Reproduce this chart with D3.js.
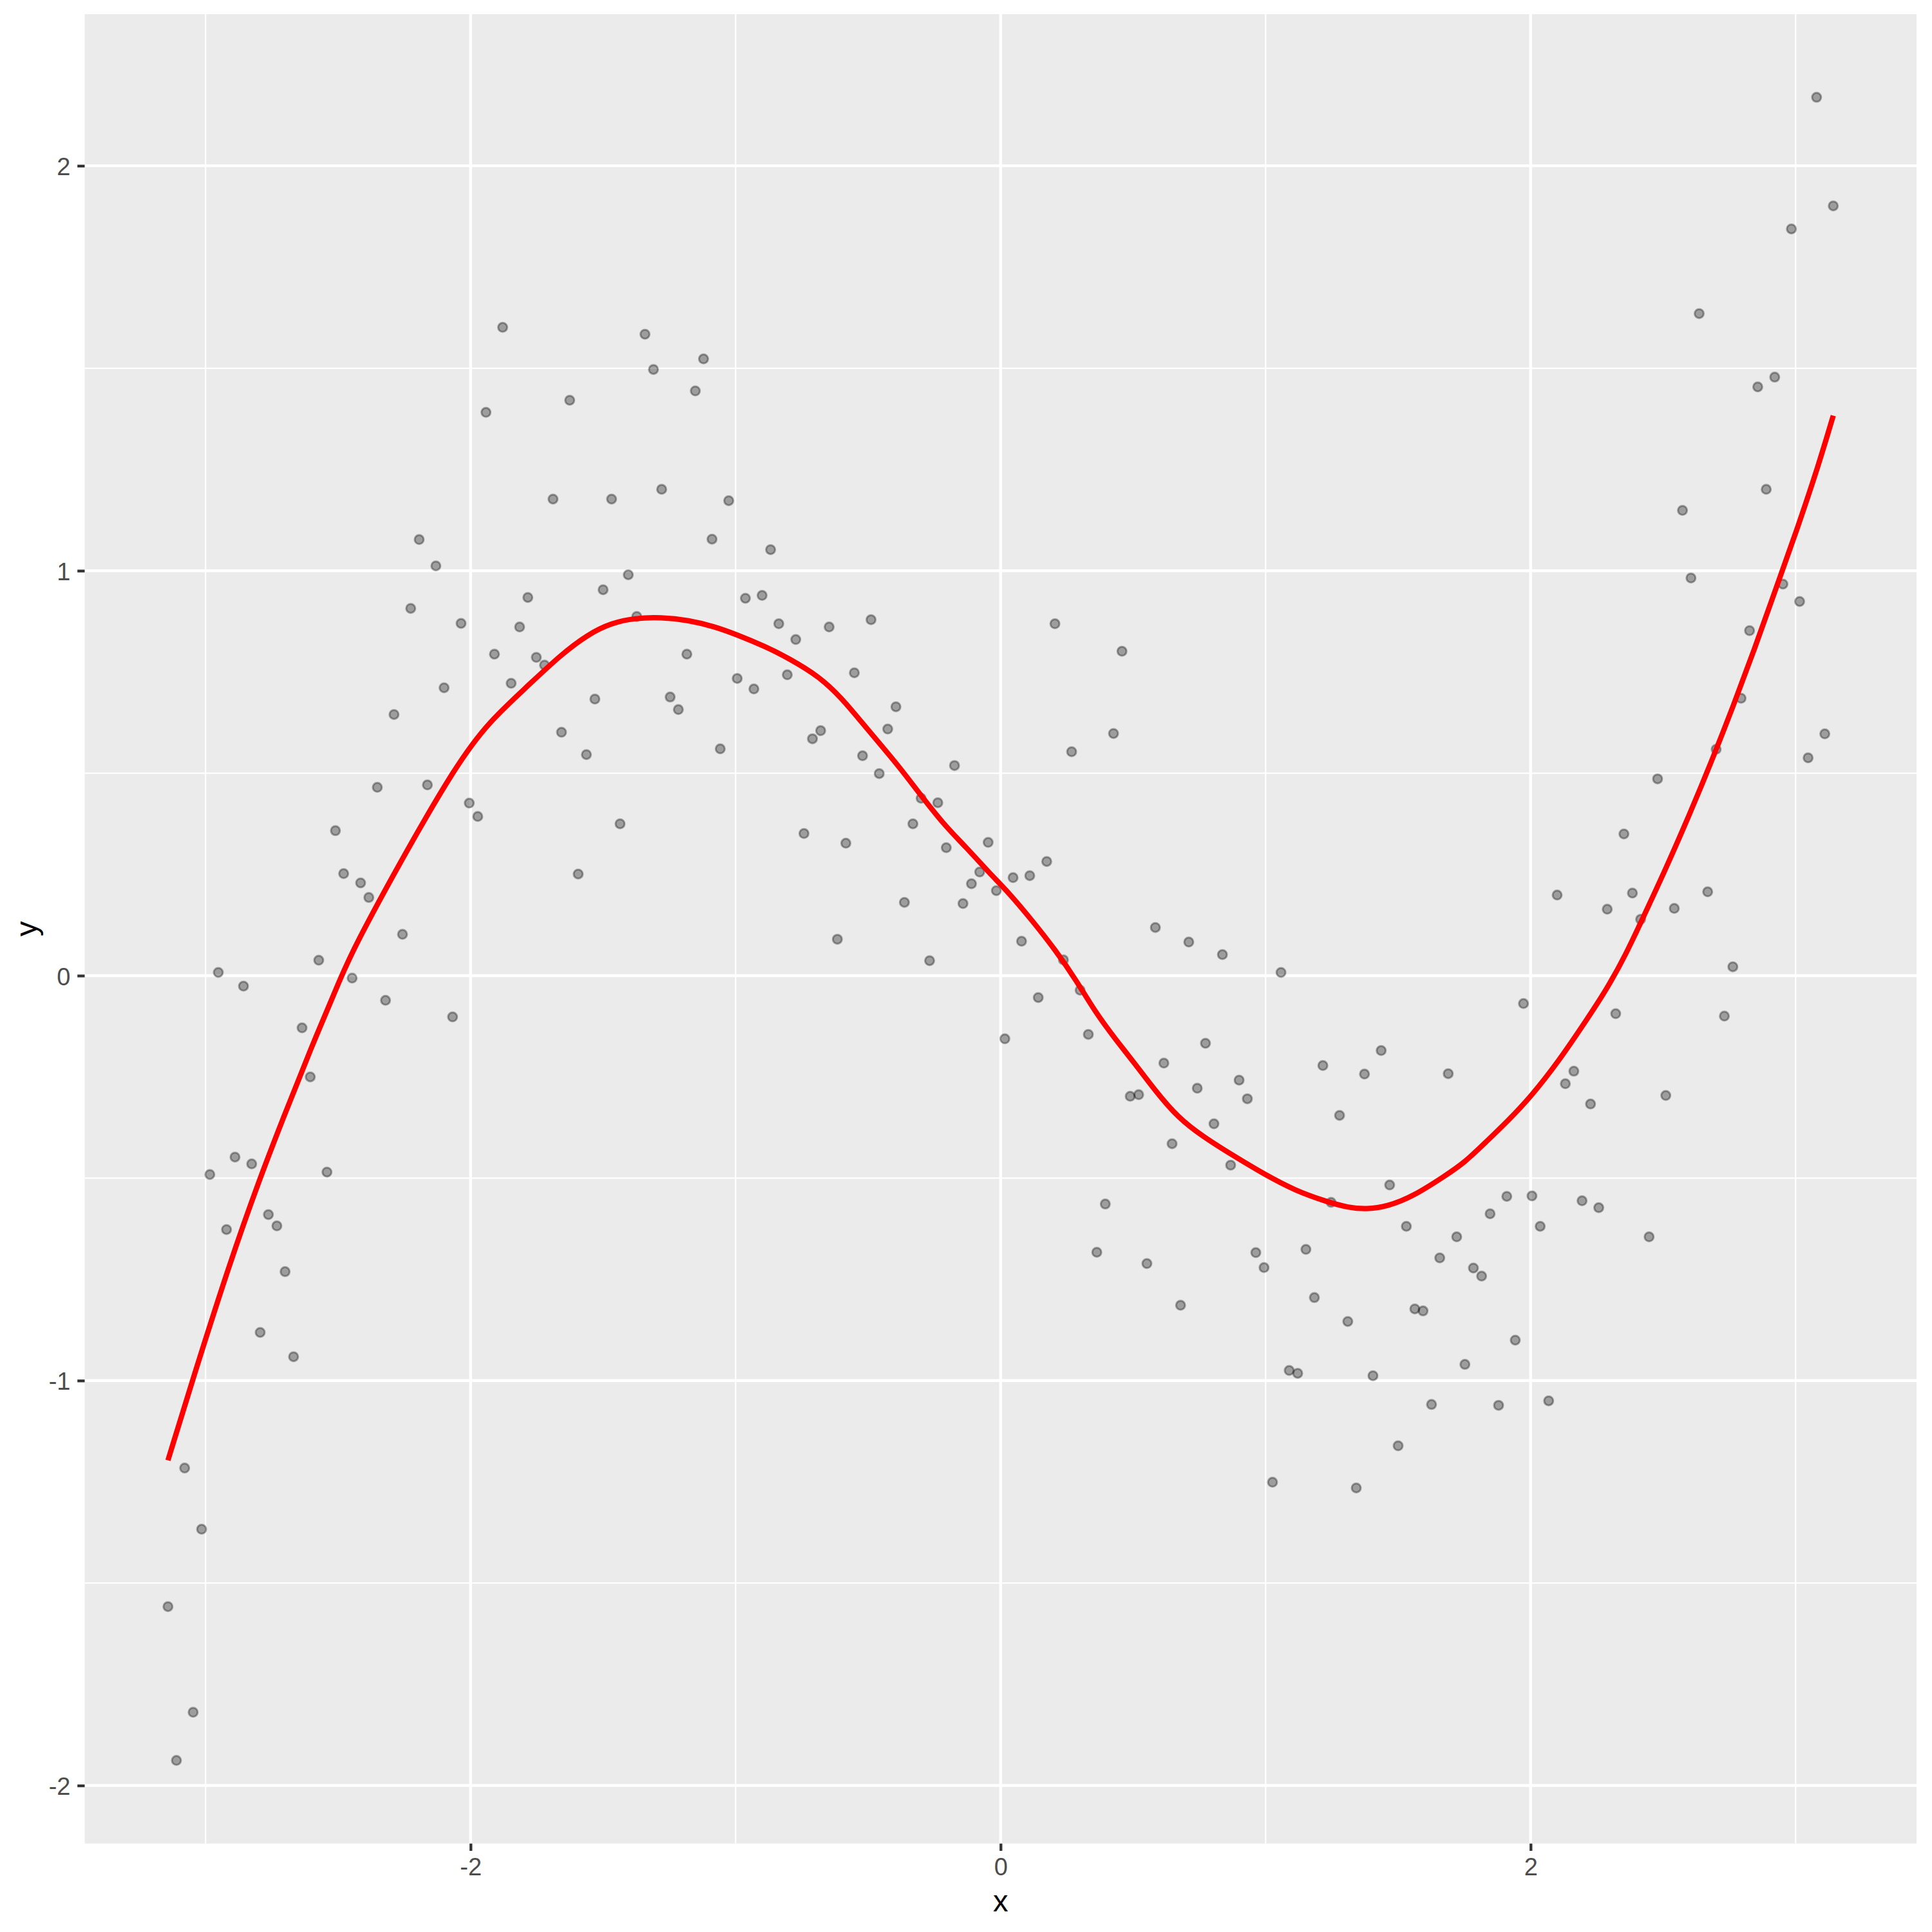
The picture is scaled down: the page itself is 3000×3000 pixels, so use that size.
<!DOCTYPE html>
<html>
<head>
<meta charset="utf-8">
<script src="https://cdn.jsdelivr.net/npm/d3@7"></script>
<style>
  html, body { margin: 0; padding: 0; background: #ffffff; }
  svg { display: block; }
</style>
</head>
<body>
<div id="chart"></div>
<script>
// ---------------- data ----------------
const xs = [
-3.142,-3.110,-3.079,-3.047,-3.015,-2.984,-2.952,-2.921,-2.889,-2.857,
-2.826,-2.794,-2.763,-2.731,-2.700,-2.668,-2.636,-2.605,-2.573,-2.542,
-2.510,-2.479,-2.447,-2.415,-2.384,-2.352,-2.321,-2.289,-2.257,-2.226,
-2.194,-2.163,-2.131,-2.100,-2.068,-2.036,-2.005,-1.973,-1.942,-1.910,
-1.879,-1.847,-1.815,-1.784,-1.752,-1.721,-1.689,-1.657,-1.626,-1.594,
-1.563,-1.531,-1.500,-1.468,-1.436,-1.405,-1.373,-1.342,-1.310,-1.279,
-1.247,-1.216,-1.184,-1.152,-1.121,-1.089,-1.058,-1.026,-0.994,-0.963,
-0.931,-0.900,-0.868,-0.837,-0.805,-0.773,-0.742,-0.710,-0.679,-0.647,
-0.616,-0.584,-0.552,-0.521,-0.489,-0.458,-0.426,-0.395,-0.363,-0.331,
-0.300,-0.268,-0.237,-0.205,-0.174,-0.142,-0.110,-0.079,-0.047,-0.016,
0.016,0.047,0.079,0.110,0.142,0.174,0.205,0.237,0.268,0.300,
0.331,0.363,0.395,0.426,0.458,0.489,0.521,0.552,0.584,0.616,
0.647,0.679,0.710,0.742,0.773,0.805,0.837,0.868,0.900,0.931,
0.963,0.994,1.026,1.058,1.089,1.121,1.152,1.184,1.216,1.247,
1.279,1.310,1.342,1.373,1.405,1.436,1.468,1.500,1.531,1.563,
1.594,1.626,1.657,1.689,1.721,1.752,1.784,1.815,1.847,1.879,
1.910,1.942,1.973,2.005,2.036,2.068,2.100,2.131,2.163,2.194,
2.226,2.257,2.289,2.321,2.352,2.384,2.415,2.447,2.479,2.510,
2.542,2.573,2.605,2.636,2.668,2.700,2.731,2.763,2.794,2.826,
2.857,2.889,2.921,2.952,2.984,3.015,3.047,3.079,3.110,3.142];

const ys = [
-1.558,-1.938,-1.216,-1.819,-1.367,-0.491,0.008,-0.627,-0.448,-0.026,
-0.465,-0.881,-0.590,-0.618,-0.731,-0.941,-0.129,-0.250,0.038,-0.485,
0.358,0.252,-0.006,0.229,0.193,0.465,-0.061,0.645,0.102,0.907,
1.077,0.471,1.012,0.711,-0.102,0.870,0.426,0.393,1.391,0.794,
1.601,0.722,0.861,0.934,0.786,0.767,1.177,0.601,1.421,0.251,
0.546,0.683,0.953,1.177,0.375,0.990,0.887,1.584,1.497,1.201,
0.688,0.657,0.794,1.444,1.523,1.078,0.560,1.173,0.734,0.932,
0.708,0.939,1.052,0.869,0.743,0.830,0.351,0.585,0.605,0.861,
0.090,0.327,0.748,0.543,0.879,0.499,0.609,0.664,0.181,0.375,
0.438,0.037,0.427,0.316,0.519,0.178,0.227,0.256,0.329,0.210,
-0.156,0.242,0.085,0.247,-0.054,0.282,0.869,0.039,0.553,-0.036,
-0.145,-0.683,-0.564,0.598,0.801,-0.298,-0.294,-0.711,0.119,-0.216,
-0.415,-0.814,0.083,-0.278,-0.167,-0.366,0.052,-0.468,-0.258,-0.304,
-0.684,-0.721,-1.251,0.008,-0.975,-0.982,-0.676,-0.795,-0.222,-0.560,
-0.345,-0.854,-1.265,-0.243,-0.988,-0.185,-0.517,-1.161,-0.619,-0.823,
-0.828,-1.059,-0.697,-0.242,-0.645,-0.960,-0.722,-0.742,-0.588,-1.061,
-0.545,-0.900,-0.069,-0.544,-0.619,-1.050,0.199,-0.267,-0.236,-0.556,
-0.317,-0.573,0.164,-0.094,0.350,0.204,0.139,-0.645,0.486,-0.296,
0.166,1.149,0.982,1.635,0.207,0.559,-0.100,0.022,0.685,0.852,
1.454,1.201,1.478,0.967,1.844,0.924,0.538,2.169,0.597,1.901];

// smoothed curve
const smoothX = [-3.142,-3.05,-2.909,-2.795,-2.706,-2.609,-2.487,-2.439,-2.269,-2.05,
-1.929,-1.783,-1.662,-1.557,-1.468,-1.379,-1.282,-1.177,-1.08,-0.999,
-0.885,-0.8,-0.683,-0.602,-0.522,-0.441,-0.376,-0.303,-0.214,-0.133,
-0.036,0.028,0.117,0.206,0.287,0.36,0.437,0.505,0.586,0.667,
0.764,0.877,0.991,1.112,1.233,1.314,1.379,1.46,1.557,1.678,
1.75,1.831,1.912,2.001,2.107,2.196,2.285,2.358,2.431,2.504,
2.601,2.682,2.763,2.844,2.925,3.006,3.087,3.142];
const smoothY = [-1.197,-1.0,-0.71,-0.5,-0.35,-0.19,0.0,0.07,0.277,0.525,
0.628,0.716,0.791,0.843,0.871,0.883,0.885,0.878,0.862,0.843,
0.812,0.784,0.738,0.687,0.624,0.561,0.51,0.447,0.373,0.319,
0.249,0.207,0.138,0.064,-0.013,-0.093,-0.16,-0.216,-0.286,-0.349,
-0.398,-0.444,-0.489,-0.531,-0.559,-0.573,-0.577,-0.570,-0.545,-0.494,
-0.462,-0.411,-0.36,-0.299,-0.21,-0.124,-0.036,0.05,0.153,0.255,
0.400,0.528,0.663,0.805,0.955,1.103,1.262,1.383];

const xTicks = [-2, 0, 2];
const xMinor = [-3, -1, 1, 3];
const yTicks = [-2, -1, 0, 1, 2];
const yMinor = [-1.5, -0.5, 0.5, 1.5];
const xTitle = "x";
const yTitle = "y";

// ---------------- layout ----------------
const W = 3000, H = 3000;
const panel = { left: 131.5, right: 2976, top: 22, bottom: 2862.7 };
const FONT = "'Liberation Sans', Arial, Helvetica, sans-serif";

const points = xs.map((x, i) => ({ x, y: ys[i] }));
const smooth = smoothX.map((x, i) => ({ x, y: smoothY[i] }));

function expand(ext) {
  const d = ext[1] - ext[0];
  return [ext[0] - 0.05 * d, ext[1] + 0.05 * d];
}
const xExt = d3.extent(xs.concat(smoothX));
const yExt = d3.extent(ys.concat(smoothY));

const x = d3.scaleLinear().domain(expand(xExt)).range([panel.left, panel.right]);
const y = d3.scaleLinear().domain(expand(yExt)).range([panel.bottom, panel.top]);

const svg = d3.select("#chart").append("svg")
  .attr("width", W).attr("height", H)
  .attr("viewBox", `0 0 ${W} ${H}`);

svg.append("rect").attr("x", 0).attr("y", 0).attr("width", W).attr("height", H).attr("fill", "#ffffff");

// panel background
svg.append("rect")
  .attr("x", panel.left).attr("y", panel.top)
  .attr("width", panel.right - panel.left)
  .attr("height", panel.bottom - panel.top)
  .attr("fill", "#EBEBEB");

const grid = svg.append("g");
// minor grid
grid.selectAll("line.ymin").data(yMinor).join("line")
  .attr("x1", panel.left).attr("x2", panel.right)
  .attr("y1", d => y(d)).attr("y2", d => y(d))
  .attr("stroke", "#ffffff").attr("stroke-width", 2.2);
grid.selectAll("line.xmin").data(xMinor).join("line")
  .attr("y1", panel.top).attr("y2", panel.bottom)
  .attr("x1", d => x(d)).attr("x2", d => x(d))
  .attr("stroke", "#ffffff").attr("stroke-width", 2.2);
// major grid
grid.selectAll("line.ymaj").data(yTicks).join("line")
  .attr("x1", panel.left).attr("x2", panel.right)
  .attr("y1", d => y(d)).attr("y2", d => y(d))
  .attr("stroke", "#ffffff").attr("stroke-width", 4.4);
grid.selectAll("line.xmaj").data(xTicks).join("line")
  .attr("y1", panel.top).attr("y2", panel.bottom)
  .attr("x1", d => x(d)).attr("x2", d => x(d))
  .attr("stroke", "#ffffff").attr("stroke-width", 4.4);

// points (semi-transparent black, like ggplot alpha)
svg.append("g").selectAll("circle").data(points).join("circle")
  .attr("cx", d => x(d.x)).attr("cy", d => y(d.y))
  .attr("r", 7)
  .attr("fill", "#000000").attr("fill-opacity", 0.33)
  .attr("stroke", "#000000").attr("stroke-opacity", 0.33)
  .attr("stroke-width", 3);

// smooth line
const line = d3.line().x(d => x(d.x)).y(d => y(d.y)).curve(d3.curveBasis);
svg.append("path").datum(smooth)
  .attr("d", line)
  .attr("fill", "none")
  .attr("stroke", "#FF0000")
  .attr("stroke-width", 8.2)
  .attr("stroke-linejoin", "round");

// axes
const tickLen = 11.3;
const xAxis = d3.axisBottom(x).tickValues(xTicks).tickSize(tickLen).tickPadding(11.5)
  .tickFormat(d => String(d));
const gx = svg.append("g").attr("transform", `translate(0,${panel.bottom})`).call(xAxis);
gx.select(".domain").remove();
gx.selectAll(".tick line").attr("stroke", "#333333").attr("stroke-width", 4.3);
gx.selectAll(".tick text").attr("fill", "#4D4D4D").attr("font-family", FONT)
  .attr("font-size", 38).attr("dy", "0.71em");

const yAxis = d3.axisLeft(y).tickValues(yTicks).tickSize(tickLen).tickPadding(10.7)
  .tickFormat(d => String(d));
const gy = svg.append("g").attr("transform", `translate(${panel.left},0)`).call(yAxis);
gy.select(".domain").remove();
gy.selectAll(".tick line").attr("stroke", "#333333").attr("stroke-width", 4.3);
gy.selectAll(".tick text").attr("fill", "#4D4D4D").attr("font-family", FONT)
  .attr("font-size", 38).attr("dy", "0.37em");

// axis titles
svg.append("text")
  .attr("x", (panel.left + panel.right) / 2).attr("y", 2968)
  .attr("text-anchor", "middle")
  .attr("font-family", FONT).attr("font-size", 47).attr("fill", "#000000")
  .text(xTitle);
svg.append("text")
  .attr("transform", `translate(57,${(panel.top + panel.bottom) / 2}) rotate(-90)`)
  .attr("text-anchor", "middle")
  .attr("font-family", FONT).attr("font-size", 47).attr("fill", "#000000")
  .text(yTitle);
</script>
</body>
</html>
